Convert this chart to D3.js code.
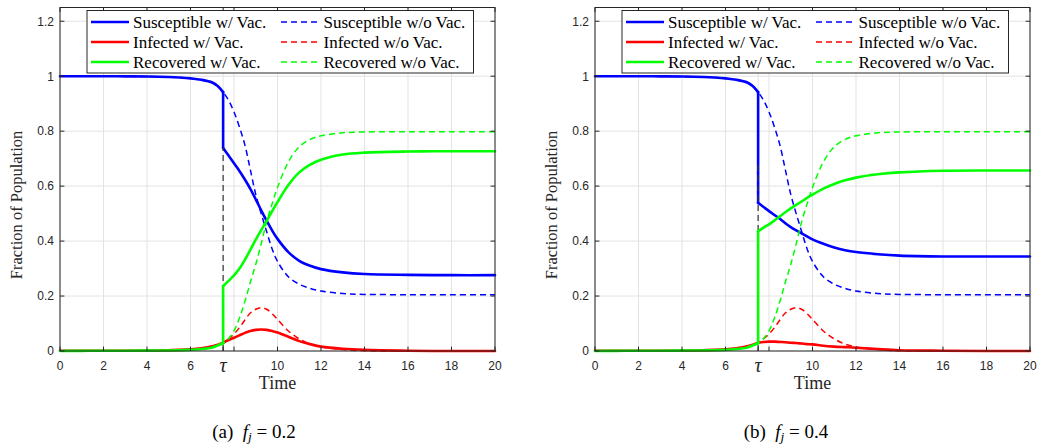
<!DOCTYPE html>
<html>
<head>
<meta charset="utf-8">
<script src="https://cdn.jsdelivr.net/npm/d3@7"></script>
<style>
  body { margin: 0; background: #ffffff; }
  svg { display: block; }
</style>
</head>
<body>
<svg id="fig" width="1037" height="447"></svg>
<script>
// ---- axis ticks ----
const tau = 7.5;
const xTicks = [0, 2, 4, 6, 7.5, 8, 10, 12, 14, 16, 18, 20];
const xTickLabels = ["0", "2", "4", "6", "\u03C4", "", "10", "12", "14", "16", "18", "20"];
const yTicks = [0, 0.2, 0.4, 0.6, 0.8, 1, 1.2];
const yTickLabels = ["0", "0.2", "0.4", "0.6", "0.8", "1", "1.2"];

// ---- epidemic before vaccination at tau (shared by both runs) ----
const timePre = [0, 1, 2, 3, 4, 5, 5.5, 6, 6.5, 7, 7.25, 7.5];
const preS = [1, 1, 1, 0.9995, 0.999, 0.997, 0.995, 0.992, 0.987, 0.977, 0.964, 0.942];
const preI = [0.001, 0.001, 0.001, 0.001, 0.0015, 0.003, 0.004, 0.006, 0.010, 0.017, 0.023, 0.030];
const preR = [0, 0.0005, 0.001, 0.001, 0.0015, 0.002, 0.003, 0.004, 0.007, 0.013, 0.020, 0.028];

// ---- after tau ----
const timePost = [7.5, 7.75, 8, 8.25, 8.5, 8.75, 9, 9.25, 9.5, 9.75, 10, 10.5, 11, 11.5, 12, 13, 14, 16, 18, 20];

// without vaccination
const noVacS = [0.942, 0.912, 0.870, 0.815, 0.750, 0.660, 0.570, 0.500, 0.435, 0.372, 0.326, 0.270, 0.243, 0.228, 0.218, 0.209, 0.206, 0.205, 0.205, 0.205];
const noVacI = [0.030, 0.045, 0.062, 0.085, 0.113, 0.138, 0.152, 0.158, 0.152, 0.136, 0.115, 0.073, 0.044, 0.025, 0.015, 0.005, 0.001, 0, 0, 0];
const noVacR = [0.028, 0.045, 0.073, 0.120, 0.180, 0.250, 0.315, 0.390, 0.470, 0.535, 0.595, 0.688, 0.743, 0.770, 0.783, 0.794, 0.797, 0.798, 0.798, 0.798];

// with vaccination, f_j = 0.2
const vacS_a = [0.739, 0.711, 0.683, 0.655, 0.624, 0.590, 0.552, 0.512, 0.474, 0.439, 0.408, 0.360, 0.328, 0.310, 0.298, 0.286, 0.280, 0.277, 0.276, 0.276];
const vacI_a = [0.030, 0.040, 0.048, 0.057, 0.066, 0.073, 0.077, 0.078, 0.077, 0.073, 0.067, 0.052, 0.036, 0.025, 0.016, 0.008, 0.004, 0.001, 0, 0];
const vacR_a = [0.236, 0.255, 0.275, 0.300, 0.332, 0.368, 0.405, 0.440, 0.473, 0.508, 0.542, 0.604, 0.650, 0.678, 0.696, 0.715, 0.722, 0.726, 0.727, 0.727];

// with vaccination, f_j = 0.4
const vacS_b = [0.539, 0.524, 0.509, 0.495, 0.481, 0.465, 0.451, 0.439, 0.428, 0.417, 0.406, 0.390, 0.377, 0.367, 0.360, 0.352, 0.347, 0.344, 0.344, 0.344];
const vacI_b = [0.030, 0.033, 0.034, 0.034, 0.033, 0.032, 0.030, 0.029, 0.027, 0.025, 0.024, 0.019, 0.016, 0.014, 0.012, 0.007, 0.003, 0.001, 0, 0];
const vacR_b = [0.436, 0.449, 0.461, 0.475, 0.490, 0.505, 0.519, 0.532, 0.544, 0.557, 0.569, 0.591, 0.608, 0.621, 0.631, 0.643, 0.650, 0.656, 0.657, 0.657];

// height of the dashed marker at tau
const tauMarkTop = [0.74, 0.69];

const legendLabels = [
  ["Susceptible w/ Vac.", "Susceptible w/o Vac."],
  ["Infected w/ Vac.", "Infected w/o Vac."],
  ["Recovered w/ Vac.", "Recovered w/o Vac."]
];
const captionLetters = ["(a)", "(b)"];
const captionValues = ["0.2", "0.4"];

const colors = { S: "#0000ff", I: "#ff0000", R: "#00ff00" };
const SERIF = "'Liberation Serif', 'Times New Roman', serif";
const SANS = "'Liberation Sans', Arial, sans-serif";

const runs = [
  { S: vacS_a, I: vacI_a, R: vacR_a },
  { S: vacS_b, I: vacI_b, R: vacR_b }
];

const svg = d3.select("#fig");
const panelLeft = [60, 595];
const plotW = 435;
const plotTop = 7.5, plotBottom = 351;

const y = d3.scaleLinear().domain([0, 1.25]).range([plotBottom, plotTop]);

const pts = (ts, vs) => ts.map((t, i) => [t, vs[i]]);

runs.forEach((run, k) => {
  const x0 = panelLeft[k];
  const x = d3.scaleLinear().domain([0, 20]).range([x0, x0 + plotW]);
  const g = svg.append("g");

  // grid
  g.append("g").selectAll("line").data(xTicks).join("line")
    .attr("x1", d => x(d)).attr("x2", d => x(d))
    .attr("y1", plotTop).attr("y2", plotBottom)
    .attr("stroke", "#e3e3e3").attr("stroke-width", 1);
  g.append("g").selectAll("line").data(yTicks).join("line")
    .attr("x1", x0).attr("x2", x0 + plotW)
    .attr("y1", d => y(d)).attr("y2", d => y(d))
    .attr("stroke", "#e3e3e3").attr("stroke-width", 1);

  const line = d3.line().x(d => x(d[0])).y(d => y(d[1])).curve(d3.curveCatmullRom.alpha(0.5));

  const drawVac = (key) => {
    const pre = pts(timePre, key === "S" ? preS : key === "I" ? preI : preR);
    const post = pts(timePost, run[key]);
    g.append("path").attr("d", line(pre))
      .attr("fill", "none").attr("stroke", colors[key]).attr("stroke-width", 2.6)
      .attr("stroke-linecap", "round").attr("stroke-linejoin", "round");
    g.append("line")
      .attr("x1", x(tau)).attr("x2", x(tau))
      .attr("y1", y(pre[pre.length - 1][1])).attr("y2", y(post[0][1]))
      .attr("stroke", colors[key]).attr("stroke-width", 2.6).attr("stroke-linecap", "round");
    g.append("path").attr("d", line(post))
      .attr("fill", "none").attr("stroke", colors[key]).attr("stroke-width", 2.6)
      .attr("stroke-linecap", "round").attr("stroke-linejoin", "round");
  };
  const drawNoVac = (key) => {
    const preV = key === "S" ? preS : key === "I" ? preI : preR;
    const postV = key === "S" ? noVacS : key === "I" ? noVacI : noVacR;
    const all = pts(timePre, preV).concat(pts(timePost.slice(1), postV.slice(1)));
    g.append("path").attr("d", line(all))
      .attr("fill", "none").attr("stroke", colors[key]).attr("stroke-width", 1.5)
      .attr("stroke-dasharray", "6,4");
  };

  drawVac("S");
  drawNoVac("S");
  // dashed marker at tau
  g.append("line")
    .attr("x1", x(tau)).attr("x2", x(tau))
    .attr("y1", y(0)).attr("y2", y(tauMarkTop[k]))
    .attr("stroke", "#333333").attr("stroke-width", 1.2).attr("stroke-dasharray", "6,4");
  drawVac("I");
  drawNoVac("I");
  drawVac("R");
  drawNoVac("R");

  // frame and inward ticks
  const axisColor = "#262626";
  g.append("rect").attr("x", x0).attr("y", plotTop).attr("width", plotW).attr("height", plotBottom - plotTop)
    .attr("fill", "none").attr("stroke", axisColor).attr("stroke-width", 1);
  const tl = 4.4;
  g.append("g").selectAll("line").data(xTicks).join("line")
    .attr("x1", d => x(d)).attr("x2", d => x(d)).attr("y1", plotBottom).attr("y2", plotBottom - tl)
    .attr("stroke", axisColor);
  g.append("g").selectAll("line").data(xTicks).join("line")
    .attr("x1", d => x(d)).attr("x2", d => x(d)).attr("y1", plotTop).attr("y2", plotTop + tl)
    .attr("stroke", axisColor);
  g.append("g").selectAll("line").data(yTicks).join("line")
    .attr("x1", x0).attr("x2", x0 + tl).attr("y1", d => y(d)).attr("y2", d => y(d))
    .attr("stroke", axisColor);
  g.append("g").selectAll("line").data(yTicks).join("line")
    .attr("x1", x0 + plotW).attr("x2", x0 + plotW - tl).attr("y1", d => y(d)).attr("y2", d => y(d))
    .attr("stroke", axisColor);

  // tick labels
  g.append("g").selectAll("text").data(xTicks).join("text")
    .attr("x", d => x(d)).attr("y", (d, i) => plotBottom + (xTickLabels[i] === "\u03C4" ? 21 : 19))
    .attr("text-anchor", "middle")
    .attr("font-family", (d, i) => xTickLabels[i] === "\u03C4" ? SERIF : SANS)
    .attr("font-style", (d, i) => xTickLabels[i] === "\u03C4" ? "italic" : "normal")
    .attr("font-size", (d, i) => xTickLabels[i] === "\u03C4" ? 20 : 12)
    .attr("fill", "#262626")
    .text((d, i) => xTickLabels[i]);
  g.append("g").selectAll("text").data(yTicks).join("text")
    .attr("x", x0 - 6).attr("y", d => y(d) + 4.3)
    .attr("text-anchor", "end").attr("font-family", SANS).attr("font-size", 12)
    .attr("fill", "#262626")
    .text((d, i) => yTickLabels[i]);

  // axis titles
  g.append("text").attr("font-family", SERIF).attr("font-size", 18)
    .attr("x", x0 + plotW / 2).attr("y", 389).attr("text-anchor", "middle")
    .attr("fill", "#262626")
    .text("Time");
  g.append("text").attr("font-family", SERIF).attr("font-size", 16.5)
    .attr("transform", `translate(${x0 - 38},${205}) rotate(-90)`)
    .attr("text-anchor", "middle")
    .attr("fill", "#262626")
    .text("Fraction of Population");

  // legend
  const lg = g.append("g");
  lg.append("rect").attr("x", x0 + 27).attr("y", 10.5).attr("width", 386.5).attr("height", 62.5)
    .attr("fill", "#ffffff").attr("stroke", axisColor).attr("stroke-width", 1);
  const rowY = [22, 42, 62];
  const keys = ["S", "I", "R"];
  keys.forEach((key, r) => {
    lg.append("line").attr("x1", x0 + 31).attr("x2", x0 + 69)
      .attr("y1", rowY[r]).attr("y2", rowY[r])
      .attr("stroke", colors[key]).attr("stroke-width", 2.6);
    lg.append("line").attr("x1", x0 + 221).attr("x2", x0 + 260)
      .attr("y1", rowY[r]).attr("y2", rowY[r])
      .attr("stroke", colors[key]).attr("stroke-width", 1.5).attr("stroke-dasharray", "6,4");
    lg.append("text").attr("font-family", SERIF).attr("font-size", 17)
      .attr("x", x0 + 73).attr("y", rowY[r] + 5.5).text(legendLabels[r][0]);
    lg.append("text").attr("font-family", SERIF).attr("font-size", 17)
      .attr("x", x0 + 263.5).attr("y", rowY[r] + 5.5).text(legendLabels[r][1]);
  });

  // caption
  const cap = svg.append("text").attr("font-family", SERIF).attr("font-size", 19)
    .attr("x", x0 - 60 + 254 - (k ? 3 : 0)).attr("y", 438).attr("text-anchor", "middle");
  cap.append("tspan").text(captionLetters[k] + "\u2002");
  cap.append("tspan").attr("font-style", "italic").text("f");
  cap.append("tspan").attr("font-style", "italic").attr("font-size", 13.5).attr("dy", 3).text("j");
  cap.append("tspan").attr("dy", -3).text(" = " + captionValues[k]);
});
</script>
</body>
</html>
